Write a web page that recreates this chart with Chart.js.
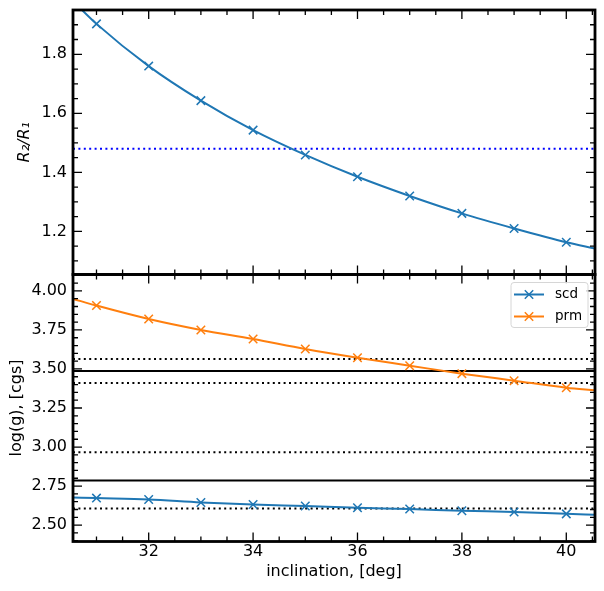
<!DOCTYPE html>
<html lang="en">
<head>
<meta charset="UTF-8">
<title>R2/R1 and log(g) vs inclination</title>
<script src="https://cdn.jsdelivr.net/npm/chart.js"></script>
<style>
  html, body { margin: 0; padding: 0; background: #fff; }
  #wrap { position: relative; width: 604px; height: 591px; overflow: hidden; }
  .panel { position: absolute; left: 0; width: 604px; }
  #topBox { top: 0; height: 284px; }
  #botBox { top: 264px; height: 327px; }
</style>
</head>
<body>
<div id="wrap">
  <div class="panel" id="topBox"><canvas id="ratioChart" width="604" height="284"></canvas></div>
  <div class="panel" id="botBox"><canvas id="loggChart" width="604" height="327"></canvas></div>
</div>
<script>
// values
const incl = [31, 32, 33, 34, 35, 36, 37, 38, 39, 40];
const xLimits = [30.55, 40.55];
const ratio = [1.903, 1.760, 1.643, 1.543, 1.459, 1.385, 1.320, 1.261, 1.210, 1.163];
const ratioAtLimits = [1.98, 1.142];
const ratioRef = 1.48;
const loggScd = [2.673, 2.664, 2.645, 2.632, 2.622, 2.611, 2.603, 2.592, 2.584, 2.572];
const loggScdAtLimits = [2.677, 2.566];
const loggPrm = [3.906, 3.820, 3.750, 3.692, 3.628, 3.572, 3.521, 3.470, 3.425, 3.380];
const loggPrmAtLimits = [3.949, 3.363];
const loggSolid = [3.487, 2.786];
const loggDotted = [3.564, 3.410, 2.966, 2.606];
const ratioLimits = [1.054, 1.95];
const loggLimits = [2.395, 4.105];
const xTicks = [32, 34, 36, 38, 40];
const ratioTicks = [1.2, 1.4, 1.6, 1.8];
const loggTicks = [2.50, 2.75, 3.00, 3.25, 3.50, 3.75, 4.00];

const BLUE = '#1f77b4';
const ORANGE = '#ff7f0e';

Chart.defaults.font.family = "'DejaVu Sans', sans-serif";
Chart.defaults.color = '#000';

function curve(ys, ends) {
    return [{ x: xLimits[0], y: ends[0] }]
        .concat(incl.map((x, i) => ({ x: x, y: ys[i] })))
        .concat([{ x: xLimits[1], y: ends[1] }]);
}

function hline(v) {
    return [{ x: xLimits[0], y: v }, { x: xLimits[1], y: v }];
}

function markedLine(label, ys, ends, color) {
    return {
        label: label,
        data: curve(ys, ends),
        borderColor: color,
        backgroundColor: color,
        borderWidth: 2,
        cubicInterpolationMode: 'monotone',
        pointStyle: 'crossRot',
        pointRadius: c => (c.dataIndex === 0 || c.dataIndex === incl.length + 1) ? 0 : 6,
        pointBorderWidth: 1.5,
        pointBorderColor: color
    };
}

function refLine(v, color, dotted) {
    return {
        data: hline(v),
        borderColor: color,
        borderWidth: 2,
        borderDash: dotted ? [2, 3.4] : [],
        pointRadius: 0
    };
}

// chart.js reserves half a label of room at the axis ends; the labels here never reach them
function noEdgePadding(sc) {
    sc.paddingTop = 0;
    sc.paddingBottom = 0;
    sc.paddingLeft = 0;
    sc.paddingRight = 0;
}

function xScale(shown) {
    return {
        type: 'linear',
        min: xLimits[0],
        max: xLimits[1],
        display: shown,
        afterBuildTicks: sc => { sc.ticks = xTicks.map(v => ({ value: v })); },
        afterFit: sc => {
            noEdgePadding(sc);
            if (shown) sc.height = 49.5;
        },
        grid: { display: false, drawTicks: false },
        border: { display: false },
        ticks: { padding: 1, font: { size: 16 }, maxRotation: 0, autoSkip: false, callback: v => String(v) },
        title: { display: shown, text: 'inclination, [deg]', font: { size: 16 }, padding: { top: 0, bottom: 9.5 } }
    };
}

function yScale(lims, ticks, digits, title, titleStyle, titlePad) {
    return {
        type: 'linear',
        min: lims[0],
        max: lims[1],
        afterBuildTicks: sc => { sc.ticks = ticks.map(v => ({ value: v })); },
        afterFit: sc => {
            noEdgePadding(sc);
            sc.width = 73;
        },
        grid: { display: false, drawTicks: false },
        border: { display: false },
        ticks: { padding: 6, font: { size: 16 }, callback: v => Number(v).toFixed(digits) },
        title: { display: true, text: title, font: { size: 16, style: titleStyle }, padding: { top: titlePad, bottom: 0 } }
    };
}

// inward ticks on all four sides plus the heavy frame
function frameTicks(yMajors, yMinor) {
    return {
        id: 'frameTicks',
        afterDraw(chart) {
            const { ctx, chartArea: a, scales: { x, y } } = chart;
            ctx.save();
            ctx.strokeStyle = '#000';
            ctx.lineWidth = 1.3;
            ctx.beginPath();
            for (let v = Math.ceil(x.min * 2) / 2; v <= x.max; v += 0.5) {
                const px = x.getPixelForValue(v);
                const len = xTicks.includes(v) ? 9 : 5;
                ctx.moveTo(px, a.top); ctx.lineTo(px, a.top + len);
                ctx.moveTo(px, a.bottom); ctx.lineTo(px, a.bottom - len);
            }
            for (let k = Math.ceil(y.min / yMinor - 1e-6); k * yMinor <= y.max + 1e-9; k++) {
                const v = k * yMinor;
                const py = y.getPixelForValue(v);
                const len = yMajors.some(m => Math.abs(m - v) < 1e-6) ? 9 : 5;
                ctx.moveTo(a.left, py); ctx.lineTo(a.left + len, py);
                ctx.moveTo(a.right, py); ctx.lineTo(a.right - len, py);
            }
            ctx.stroke();
            ctx.lineWidth = 2.8;
            ctx.strokeRect(a.left, a.top, a.right - a.left, a.bottom - a.top);
            ctx.restore();
        }
    };
}

const cornerLegend = {
    id: 'cornerLegend',
    afterDraw(chart) {
        const { ctx, chartArea: a } = chart;
        const items = chart.data.datasets.filter(d => d.label);
        const bx = a.right - 84, by = a.top + 8, bw = 77, bh = 45, r = 3;
        ctx.save();
        ctx.beginPath();
        ctx.moveTo(bx + r, by);
        ctx.arcTo(bx + bw, by, bx + bw, by + bh, r);
        ctx.arcTo(bx + bw, by + bh, bx, by + bh, r);
        ctx.arcTo(bx, by + bh, bx, by, r);
        ctx.arcTo(bx, by, bx + bw, by, r);
        ctx.closePath();
        ctx.fillStyle = 'rgba(255,255,255,0.8)';
        ctx.fill();
        ctx.strokeStyle = '#d6d6d6';
        ctx.lineWidth = 1;
        ctx.stroke();
        ctx.font = "13.5px 'DejaVu Sans', sans-serif";
        ctx.textBaseline = 'middle';
        items.forEach((d, i) => {
            const cy = by + 12 + i * 22;
            const x0 = bx + 3, x1 = bx + 33, mx = (x0 + x1) / 2;
            ctx.strokeStyle = d.borderColor;
            ctx.lineWidth = 2;
            ctx.beginPath(); ctx.moveTo(x0, cy); ctx.lineTo(x1, cy); ctx.stroke();
            ctx.lineWidth = 1.5;
            const h = 4.2;
            ctx.beginPath();
            ctx.moveTo(mx - h, cy - h); ctx.lineTo(mx + h, cy + h);
            ctx.moveTo(mx - h, cy + h); ctx.lineTo(mx + h, cy - h);
            ctx.stroke();
            ctx.fillStyle = '#000';
            ctx.fillText(d.label, bx + 44, cy);
        });
        ctx.restore();
    }
};

const common = {
    responsive: false,
    animation: false,
    events: [],
    plugins: { legend: { display: false }, tooltip: { enabled: false } }
};

new Chart(document.getElementById('ratioChart'), {
    type: 'line',
    data: {
        datasets: [
            markedLine('', ratio, ratioAtLimits, BLUE),
            refLine(ratioRef, '#0000ff', true)
        ]
    },
    options: Object.assign({}, common, {
        layout: { padding: { left: 0, right: 9, top: 10, bottom: 9.5 } },
        scales: {
            x: xScale(false),
            y: yScale(ratioLimits, ratioTicks, 1, 'R₂/R₁', 'italic', 15)
        }
    }),
    plugins: [frameTicks(ratioTicks, 0.05)]
});

new Chart(document.getElementById('loggChart'), {
    type: 'line',
    data: {
        datasets: [
            markedLine('scd', loggScd, loggScdAtLimits, BLUE),
            markedLine('prm', loggPrm, loggPrmAtLimits, ORANGE)
        ]
            .concat(loggSolid.map(v => refLine(v, '#000', false)))
            .concat(loggDotted.map(v => refLine(v, '#000', true)))
    },
    options: Object.assign({}, common, {
        layout: { padding: { left: 0, right: 9, top: 10.5, bottom: 0 } },
        scales: {
            x: xScale(true),
            y: yScale(loggLimits, loggTicks, 2, 'log(g), [cgs]', 'normal', 7)
        }
    }),
    plugins: [frameTicks(loggTicks, 0.05), cornerLegend]
});
</script>
</body>
</html>
